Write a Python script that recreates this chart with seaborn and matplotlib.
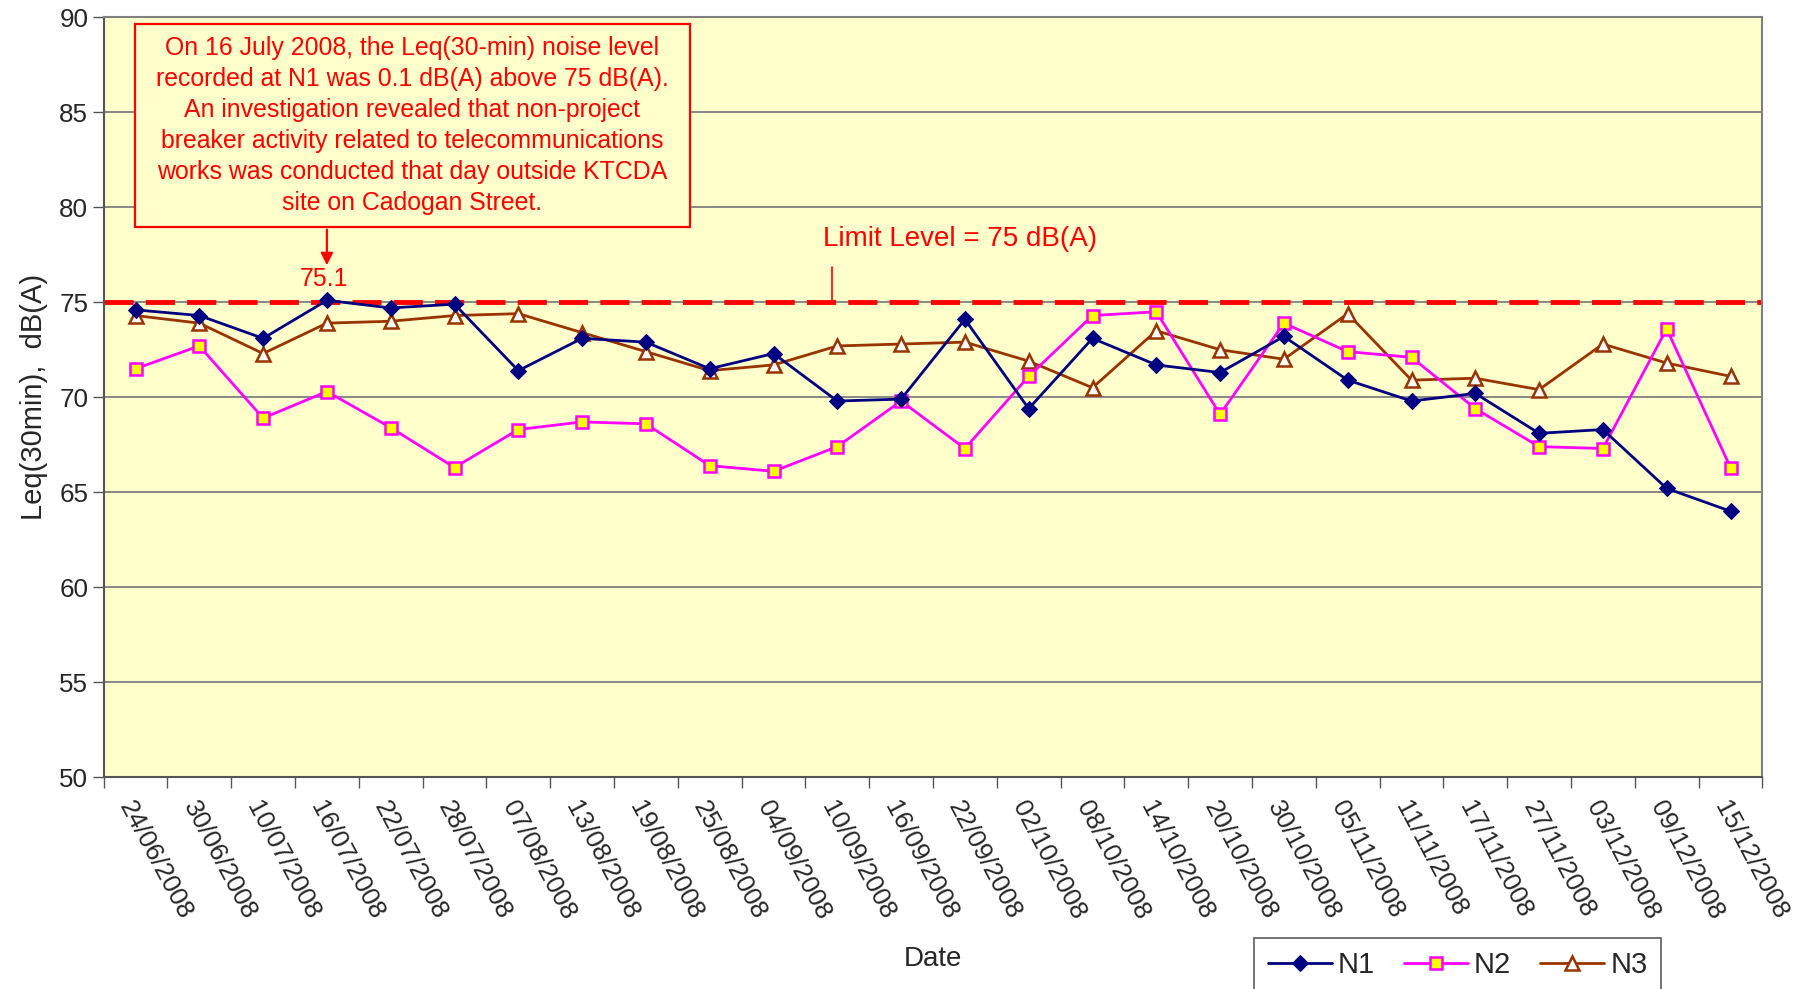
import numpy as np
import pandas as pd
import matplotlib
matplotlib.use("Agg")
import matplotlib.pyplot as plt
from matplotlib.patches import Rectangle
import seaborn as sns

dates = ["24/06/2008", "30/06/2008", "10/07/2008", "16/07/2008", "22/07/2008", "28/07/2008",
         "07/08/2008", "13/08/2008", "19/08/2008", "25/08/2008", "04/09/2008", "10/09/2008",
         "16/09/2008", "22/09/2008", "02/10/2008", "08/10/2008", "14/10/2008", "20/10/2008",
         "30/10/2008", "05/11/2008", "11/11/2008", "17/11/2008", "27/11/2008", "03/12/2008",
         "09/12/2008", "15/12/2008"]
n1 = [74.6, 74.3, 73.1, 75.1, 74.7, 74.9, 71.4, 73.1, 72.9, 71.5, 72.3, 69.8, 69.9,
      74.1, 69.4, 73.1, 71.7, 71.3, 73.2, 70.9, 69.8, 70.2, 68.1, 68.3, 65.2, 64.0]
n2 = [71.5, 72.7, 68.9, 70.3, 68.4, 66.3, 68.3, 68.7, 68.6, 66.4, 66.1, 67.4, 69.8,
      67.3, 71.1, 74.3, 74.5, 69.1, 73.9, 72.4, 72.1, 69.4, 67.4, 67.3, 73.6, 66.3]
n3 = [74.3, 73.9, 72.3, 73.9, 74.0, 74.3, 74.4, 73.4, 72.4, 71.4, 71.7, 72.7, 72.8,
      72.9, 71.9, 70.5, 73.5, 72.5, 72.0, 74.4, 70.9, 71.0, 70.4, 72.8, 71.8, 71.1]
limit = 75
yticks = [50, 55, 60, 65, 70, 75, 80, 85, 90]
note = ("On 16 July 2008, the Leq(30-min) noise level\n"
        "recorded at N1 was 0.1 dB(A) above 75 dB(A).\n"
        "An investigation revealed that non-project\n"
        "breaker activity related to telecommunications\n"
        "works was conducted that day outside KTCDA\n"
        "site on Cadogan Street.")

sns.set_theme(style="white")
plt.rcParams['font.family'] = ['Liberation Sans', 'DejaVu Sans']

fig = plt.figure(figsize=(18.05, 9.89), dpi=100)
ax = fig.add_axes([0.0574, 0.2142, 0.9190, 0.7683])
ax.set_facecolor("#FFFFCC")

x = np.arange(len(dates))
ax.set_axisbelow(True)
ax.yaxis.grid(True, color="#808080", lw=1.3)
ax.axhline(limit, color="red", lw=3.5, dashes=(6.0, 2.5), zorder=2)

sns.lineplot(x=x, y=n1, ax=ax, color="#000080", lw=2, marker="D", markersize=8,
             markerfacecolor="#000080", markeredgecolor="#000080", label="N1", zorder=5)
sns.lineplot(x=x, y=n2, ax=ax, color="#FF00FF", lw=2, marker="s", markersize=9,
             markerfacecolor="#FFFF00", markeredgecolor="#FF00FF", markeredgewidth=1.8,
             label="N2", zorder=4)
sns.lineplot(x=x, y=n3, ax=ax, color="#993300", lw=2, marker="^", markersize=10,
             markerfacecolor="white", markeredgecolor="#993300", markeredgewidth=1.8,
             label="N3", zorder=3)

ax.set_xlim(-0.5, len(dates) - 0.5)
ax.set_ylim(50, 90)
ax.set_yticks(yticks)
ax.set_xticks(x)
ax.set_xticklabels(dates, rotation=-62, ha="left", va="top", rotation_mode="anchor")
ax.set_xticks(np.arange(len(dates) + 1) - 0.5, minor=True)
ax.tick_params(axis="x", which="major", length=0, labelsize=18.7, pad=14)
ax.tick_params(axis="x", which="minor", length=8, width=1, color="#555555", direction="out", bottom=True)
ax.tick_params(axis="y", length=8, width=1, color="#555555", direction="out", left=True,
               labelsize=18.7, pad=3)
for side in ["left", "bottom"]:
    ax.spines[side].set_color("#555555")
    ax.spines[side].set_linewidth(1.5)
for side in ["right", "top"]:
    ax.spines[side].set_color("#808080")
    ax.spines[side].set_linewidth(1.5)

ax.set_xlabel("Date", fontsize=20)
ax.set_ylabel("Leq(30min),  dB(A)", fontsize=21, labelpad=8)
ax.xaxis.set_label_coords(0.50, -0.222)

# annotation box
ax.add_patch(Rectangle((-0.01, 78.97), 8.70, 10.67, facecolor="#FFFFCC", edgecolor="red",
                       lw=1.6, zorder=6))
ax.text(4.34, 84.3, note, ha="center", va="center", color="red", fontsize=17.9,
        linespacing=1.36, zorder=7)
ax.annotate("", xy=(3, 76.8), xytext=(3, 78.97),
            arrowprops=dict(arrowstyle="-|>", color="red", lw=1.6, mutation_scale=18), zorder=7)
ax.text(2.95, 76.2, "75.1", ha="center", va="center", color="red", fontsize=18)

ax.plot([10.92, 10.92], [75, 76.85], color="red", lw=1.2)
ax.text(10.78, 78.35, "Limit Level = 75 dB(A)", ha="left", va="center", color="red", fontsize=20)

leg = ax.legend(loc="upper left", bbox_to_anchor=(0.695, 0.0512), bbox_transform=fig.transFigure,
                ncol=3, frameon=True, fancybox=False, fontsize=21, handlelength=2.2,
                columnspacing=1.0, handletextpad=0.2, borderpad=0.45, borderaxespad=0)
leg.get_frame().set_edgecolor("#333333")
leg.get_frame().set_linewidth(1.2)

fig.savefig("out.png", dpi=100)
